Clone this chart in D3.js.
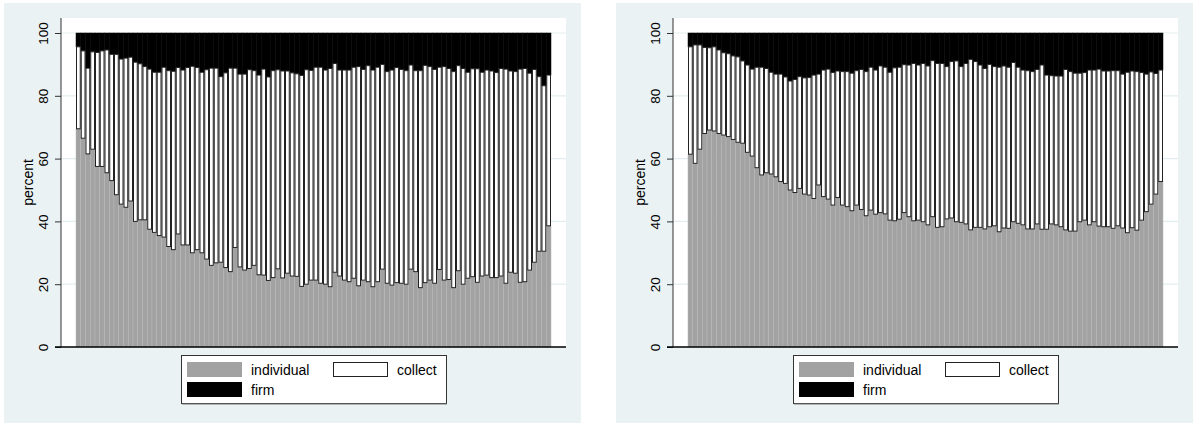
<!DOCTYPE html>
<html>
<head>
<meta charset="utf-8">
<script src="https://cdn.jsdelivr.net/npm/d3@7"></script>
<style>
  html, body { margin: 0; padding: 0; background: #ffffff; }
  svg { display: block; }
  text { font-family: "Liberation Sans", Arial, Helvetica, sans-serif; fill: #000; }
</style>
</head>
<body>
<svg id="chart" width="1193" height="423"></svg>
<script>
// Share (percent) of each bar held by the "individual" group, left panel
const leftIndividual = [
  69.5, 66.5, 61.5, 63.0, 57.5, 57.5, 55.5, 53.0, 48.5, 45.5,
  44.5, 46.5, 40.0, 40.5, 40.5, 37.5, 36.5, 35.5, 35.0, 32.0,
  31.0, 36.0, 32.5, 32.5, 30.0, 31.0, 30.0, 28.0, 26.0, 26.8,
  27.0, 25.3, 24.0, 31.7, 25.5, 24.5, 25.0, 26.0, 23.0, 22.9,
  21.2, 22.1, 24.9, 22.0, 23.5, 22.6, 22.5, 19.3, 20.0, 21.3,
  21.3, 20.3, 20.0, 19.2, 23.8, 22.6, 21.3, 20.8, 21.9, 19.5,
  21.3, 20.8, 19.2, 20.8, 24.8, 20.3, 19.7, 20.5, 20.3, 20.0,
  24.8, 24.0, 18.9, 20.5, 21.3, 20.3, 24.7, 21.3, 21.5, 18.9,
  24.3, 20.0, 21.9, 22.4, 20.6, 22.6, 22.9, 22.1, 22.1, 22.6,
  20.3, 23.8, 23.5, 20.6, 20.8, 24.5, 27.0, 30.5, 30.5, 38.6
];
// Cumulative share individual + collect (top of the white segment), left panel
const leftCollectTop = [
  95.6, 94.3, 88.8, 94.0, 93.8, 94.3, 94.6, 93.2, 93.2, 91.7,
  92.0, 92.3, 90.7, 90.2, 89.3, 88.5, 87.5, 87.5, 89.1, 88.0,
  87.8, 89.0, 88.2, 89.0, 89.4, 89.0, 87.5, 88.3, 88.8, 88.8,
  86.1, 87.3, 88.8, 88.8, 86.9, 86.9, 88.3, 88.0, 86.6, 88.5,
  86.0, 88.0, 88.3, 87.9, 87.9, 87.3, 87.0, 86.5, 88.3, 88.1,
  89.1, 89.1, 88.2, 88.7, 90.3, 88.2, 88.2, 88.2, 89.1, 89.3,
  88.4, 89.6, 88.2, 89.1, 90.0, 87.7, 88.2, 89.0, 88.4, 88.0,
  89.8, 88.0, 88.0, 89.7, 89.3, 88.4, 89.1, 89.3, 88.7, 87.7,
  89.6, 88.7, 87.5, 88.6, 88.6, 87.5, 88.2, 87.9, 87.4, 88.7,
  88.5, 87.9, 87.7, 88.5, 88.7, 87.2, 88.4, 86.1, 83.2, 86.6
];
// Share held by "individual", right panel
const rightIndividual = [
  61.4, 58.5, 63.0, 68.0, 69.1, 68.8, 68.0, 67.5, 67.0, 66.1,
  65.2, 64.9, 62.0, 60.8, 57.1, 54.8, 55.5, 55.1, 54.2, 52.7,
  52.1, 50.0, 49.2, 50.5, 48.7, 48.4, 47.3, 51.6, 47.9, 47.1,
  45.2, 47.6, 45.2, 44.7, 43.4, 45.2, 43.8, 41.8, 43.6, 42.3,
  42.8, 42.4, 40.4, 40.2, 40.7, 42.8, 41.5, 40.2, 40.4, 39.9,
  38.9, 41.5, 38.1, 38.3, 40.8, 41.1, 39.9, 39.7, 39.2, 37.3,
  38.1, 38.1, 37.6, 38.3, 38.6, 36.7, 37.9, 37.8, 39.9, 39.4,
  38.9, 37.6, 37.6, 39.2, 37.5, 37.5, 39.2, 38.9, 38.3, 37.3,
  36.9, 36.9, 39.9, 40.4, 38.9, 39.9, 38.5, 38.3, 38.3, 37.8,
  38.6, 37.9, 36.4, 38.0, 37.2, 40.4, 43.1, 45.5, 48.7, 52.7
];
// Cumulative share individual + collect, right panel
const rightCollectTop = [
  95.6, 96.2, 96.2, 95.4, 95.3, 95.6, 94.6, 93.7, 93.4, 92.7,
  92.4, 91.1, 89.8, 88.5, 89.1, 89.1, 88.7, 87.5, 86.9, 86.9,
  86.0, 84.7, 85.2, 86.1, 85.7, 85.8, 86.6, 86.9, 88.2, 88.5,
  87.4, 87.9, 87.7, 87.7, 87.2, 88.0, 88.4, 87.7, 89.1, 88.2,
  89.5, 89.1, 87.5, 88.9, 89.1, 89.9, 89.8, 90.3, 89.8, 90.3,
  89.5, 91.2, 90.3, 90.3, 89.3, 90.9, 91.1, 89.3, 90.3, 91.6,
  90.9, 89.8, 88.7, 90.0, 89.3, 89.1, 89.5, 89.1, 90.6, 89.1,
  88.2, 88.0, 87.7, 88.4, 89.8, 86.6, 86.4, 86.3, 86.3, 88.4,
  87.7, 87.2, 87.2, 87.4, 88.2, 88.2, 88.5, 87.9, 87.9, 88.0,
  88.0, 86.9, 87.5, 87.9, 87.7, 87.4, 86.9, 87.6, 87.1, 88.2
];

const yTicks = [0, 20, 40, 60, 80, 100];
const seriesNames = ["individual", "collect", "firm"];
const seriesColors = { individual: "#a2a2a2", collect: "#ffffff", firm: "#000000" };

const svg = d3.select("#chart");

function drawPanel(offsetX, individual, collectTop) {
  const g = svg.append("g").attr("transform", `translate(${offsetX},0)`);

  // graph region
  g.append("rect").attr("x", 4).attr("y", 3).attr("width", 577).attr("height", 425)
    .attr("fill", "#eaf2f3");

  const plotLeft = 61, plotRight = 566, plotTop = 18, plotBottom = 347;
  g.append("rect").attr("x", plotLeft).attr("y", plotTop)
    .attr("width", plotRight - plotLeft).attr("height", plotBottom - plotTop)
    .attr("fill", "#ffffff");

  const y = d3.scaleLinear().domain([0, 100]).range([347, 33]);
  const x = d3.scaleBand().domain(d3.range(individual.length))
    .range([76, 551]).paddingInner(0).paddingOuter(0);

  // grid lines
  g.append("g").selectAll("line").data(yTicks.filter(t => t > 0)).join("line")
    .attr("x1", plotLeft).attr("x2", plotRight)
    .attr("y1", d => y(d)).attr("y2", d => y(d))
    .attr("stroke", "#e3edef").attr("stroke-width", 1.2);

  const bw = x.bandwidth();
  const bars = g.append("g");
  // individual (grey) segments
  bars.selectAll("rect.ind").data(individual).join("rect").attr("class", "ind")
    .attr("x", (d, i) => x(i)).attr("width", bw)
    .attr("y", d => y(d)).attr("height", d => y(0) - y(d))
    .attr("fill", seriesColors.individual)
    .attr("stroke", "#b8b8b8").attr("stroke-width", 0.5);
  // firm (black) segments
  bars.selectAll("rect.firm").data(collectTop).join("rect").attr("class", "firm")
    .attr("x", (d, i) => x(i)).attr("width", bw)
    .attr("y", y(100)).attr("height", d => y(d) - y(100))
    .attr("fill", seriesColors.firm)
    .attr("stroke", "#000").attr("stroke-width", 0.5);
  // collect (white) segments
  bars.selectAll("rect.col").data(collectTop).join("rect").attr("class", "col")
    .attr("x", (d, i) => x(i) + 0.5).attr("width", bw - 1)
    .attr("y", d => y(d)).attr("height", (d, i) => y(individual[i]) - y(d))
    .attr("fill", seriesColors.collect)
    .attr("stroke", "#222").attr("stroke-width", 1);

  // y axis
  const axis = d3.axisLeft(y).tickValues(yTicks).tickSize(6).tickPadding(4);
  const ax = g.append("g").attr("transform", `translate(${plotLeft},0)`).call(axis);
  ax.select(".domain").attr("d", `M0,${plotTop}V${plotBottom}`).attr("stroke", "#333");
  ax.selectAll(".tick line").attr("stroke", "#333");
  ax.selectAll(".tick text")
    .attr("font-size", 13.5)
    .attr("x", 0).attr("y", 0).attr("dy", null)
    .attr("text-anchor", "middle")
    .attr("transform", "translate(-13,0) rotate(-90)");

  // x axis baseline
  g.append("line").attr("x1", plotLeft - 6).attr("x2", plotRight)
    .attr("y1", plotBottom).attr("y2", plotBottom)
    .attr("stroke", "#000").attr("stroke-width", 1.5);

  // y axis title
  g.append("text").attr("transform", `translate(33,${(plotTop + plotBottom) / 2}) rotate(-90)`)
    .attr("text-anchor", "middle").attr("font-size", 14).text("percent");

  // legend
  const lg = g.append("g").attr("transform", "translate(181,355)");
  lg.append("rect").attr("x", 0.5).attr("y", 0.5).attr("width", 265).attr("height", 48)
    .attr("fill", "#fff").attr("stroke", "#333").attr("stroke-width", 1);
  lg.append("line").attr("x1", 1).attr("x2", 266).attr("y1", 49).attr("y2", 49)
    .attr("stroke", "#777").attr("stroke-width", 1);
  const items = [
    { name: seriesNames[0], sx: 6, sy: 7 },
    { name: seriesNames[1], sx: 152, sy: 7 },
    { name: seriesNames[2], sx: 6, sy: 27 }
  ];
  items.forEach(it => {
    lg.append("rect").attr("x", it.sx + 0.5).attr("y", it.sy + 0.5)
      .attr("width", 54).attr("height", 14)
      .attr("fill", seriesColors[it.name])
      .attr("stroke", it.name === "collect" ? "#222" : seriesColors[it.name])
      .attr("stroke-width", 1);
    lg.append("text").attr("x", it.sx + 64).attr("y", it.sy + 12.5)
      .attr("font-size", 14).text(it.name);
  });
}

drawPanel(0, leftIndividual, leftCollectTop);
drawPanel(612, rightIndividual, rightCollectTop);
</script>
</body>
</html>
